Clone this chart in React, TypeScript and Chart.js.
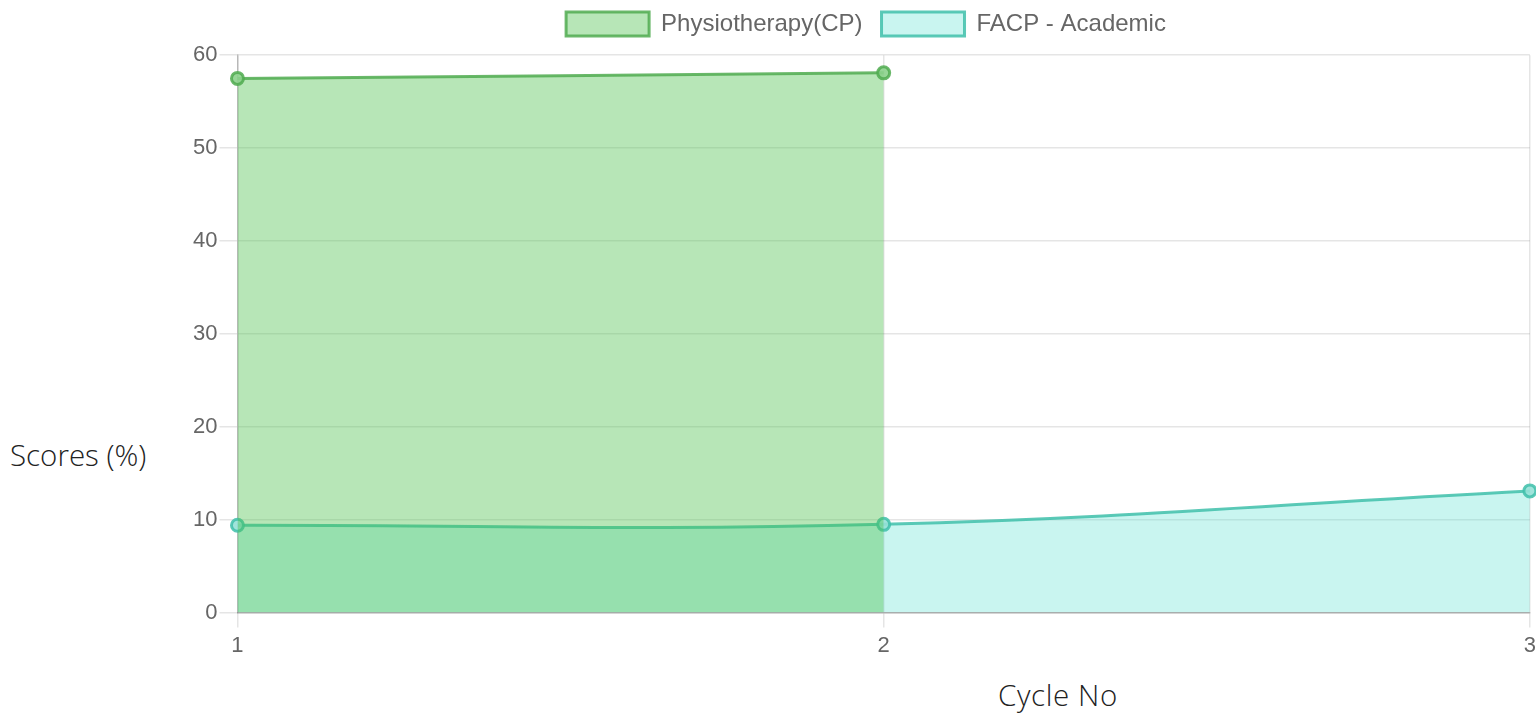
import React, { useEffect, useRef } from "react";
import { Chart, registerables } from "chart.js";

Chart.register(...registerables);

const cycleLabels: string[] = ["1", "2", "3"];
const physioLabel = "Physiotherapy(CP)";
const physioScores: number[] = [57.5, 58.1];
const facpLabel = "FACP - Academic";
const facpScores: number[] = [9.4, 9.5, 13.1];
const yTitle = "Scores (%)";
const xTitle = "Cycle No";

const tickFont = { family: "'Liberation Sans', Arial, Helvetica, sans-serif", size: 22 };
const legendFont = { family: "'Liberation Sans', Arial, Helvetica, sans-serif", size: 24 };

export default function App() {
  const canvasRef = useRef<HTMLCanvasElement | null>(null);

  useEffect(() => {
    if (!canvasRef.current) return;
    const chart = new Chart(canvasRef.current, {
      type: "line",
      data: {
        labels: cycleLabels,
        datasets: [
          {
            label: physioLabel,
            data: physioScores,
            backgroundColor: "rgba(75,192,75,0.4)",
            borderColor: "rgba(80,172,80,0.85)",
            pointBackgroundColor: "rgba(140,210,140,0.9)",
            pointBorderColor: "rgba(80,172,80,0.85)",
            fill: "origin",
          },
          {
            label: facpLabel,
            data: facpScores,
            backgroundColor: "rgba(75,222,206,0.3)",
            borderColor: "rgba(64,192,170,0.85)",
            pointBackgroundColor: "rgba(150,225,215,0.9)",
            pointBorderColor: "rgba(64,192,170,0.85)",
            fill: "origin",
          },
        ],
      },
      options: {
        responsive: true,
        maintainAspectRatio: false,
        animation: false,
        elements: {
          line: { tension: 0.4, borderWidth: 3 },
          point: { radius: 6, borderWidth: 3 },
        },
        plugins: {
          legend: {
            labels: {
              boxWidth: 83,
              boxHeight: 24,
              padding: 19,
              font: legendFont,
              color: "#666",
            },
          },
          title: {
            display: true,
            text: "",
            weight: 500,
            font: { size: 1 },
            padding: { top: 8, bottom: 0 },
          } as any,
          tooltip: { enabled: false },
        },
        scales: {
          x: {
            grid: { color: "rgba(0,0,0,0.1)", tickLength: 15, lineWidth: 1.5 },
            border: { color: "rgba(0,0,0,0.25)", width: 1.5 },
            ticks: { font: tickFont, color: "#666", padding: 5 },
          },
          y: {
            min: 0,
            max: 60,
            grid: { color: "rgba(0,0,0,0.1)", tickLength: 18, lineWidth: 1.5 },
            border: { color: "rgba(0,0,0,0.2)", width: 1.5 },
            ticks: { stepSize: 10, font: tickFont, color: "#666", padding: 2 },
          },
        },
      },
    });
    return () => chart.destroy();
  }, []);

  const titleStyle: React.CSSProperties = {
    position: "absolute",
    fontFamily: "'Open Sans', 'Noto Sans', sans-serif",
    fontWeight: 300,
    fontSize: 29.5,
    color: "#222",
    whiteSpace: "nowrap",
    lineHeight: 1,
  };

  return (
    <div
      style={{
        position: "fixed",
        left: 0,
        top: 0,
        width: 1536,
        height: 719,
        overflow: "hidden",
        background: "#fff",
      }}
    >
      <div style={{ position: "absolute", left: 191, top: -7, width: 1350, height: 671 }}>
        <canvas ref={canvasRef} />
      </div>
      <div style={{ ...titleStyle, left: 10, top: 440 }}>{yTitle}</div>
      <div style={{ ...titleStyle, left: 998, top: 680, letterSpacing: 0.6 }}>{xTitle}</div>
    </div>
  );
}
